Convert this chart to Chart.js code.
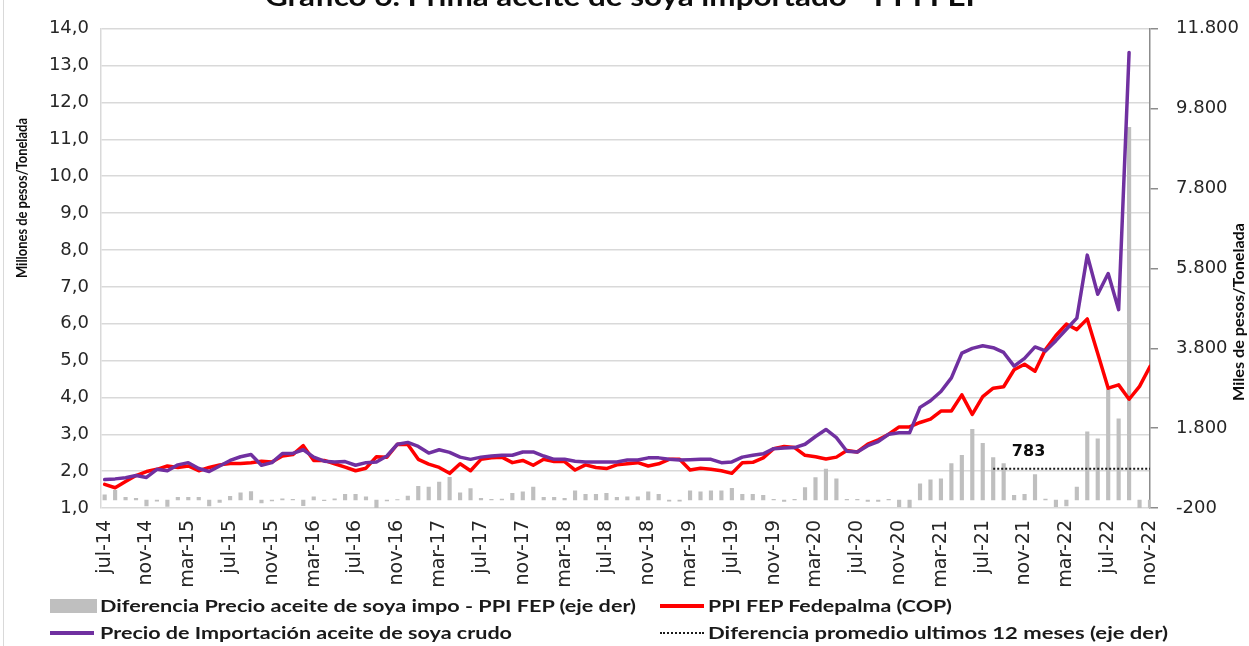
<!DOCTYPE html>
<html lang="es">
<head>
<meta charset="utf-8">
<title>Prima aceite de soya importado - PPI FEP</title>
<script src="https://cdn.jsdelivr.net/npm/chart.js@4.4.1/dist/chart.umd.min.js"></script>
<style>
  html, body { margin: 0; padding: 0; background: #fff; }
  #wrap { position: relative; width: 1249px; height: 646px; overflow: hidden; background: #fff; }
  #c { position: absolute; left: 0; top: 0; }
  #frame { position: absolute; left: 3px; top: 0; width: 1px; height: 646px; background: #d9d9d9; }
  .leg-text { position: absolute; font-family: Lato, "Open Sans", sans-serif; font-weight: 700; font-size: 17px;
              color: #1a1a1a; white-space: nowrap; line-height: 20px; transform-origin: 0 50%; }
  .leg-sw { position: absolute; }
</style>
</head>
<body>
<div id="wrap">
  <canvas id="c" width="1249" height="646"></canvas>
  <div id="frame"></div>
  <div id="legend"></div>
</div>
<script>
// Monthly categories, jul-14 .. nov-22
const months = [
  "jul-14","ago-14","sep-14","oct-14","nov-14","dic-14",
  "ene-15","feb-15","mar-15","abr-15","may-15","jun-15","jul-15","ago-15","sep-15","oct-15","nov-15","dic-15",
  "ene-16","feb-16","mar-16","abr-16","may-16","jun-16","jul-16","ago-16","sep-16","oct-16","nov-16","dic-16",
  "ene-17","feb-17","mar-17","abr-17","may-17","jun-17","jul-17","ago-17","sep-17","oct-17","nov-17","dic-17",
  "ene-18","feb-18","mar-18","abr-18","may-18","jun-18","jul-18","ago-18","sep-18","oct-18","nov-18","dic-18",
  "ene-19","feb-19","mar-19","abr-19","may-19","jun-19","jul-19","ago-19","sep-19","oct-19","nov-19","dic-19",
  "ene-20","feb-20","mar-20","abr-20","may-20","jun-20","jul-20","ago-20","sep-20","oct-20","nov-20","dic-20",
  "ene-21","feb-21","mar-21","abr-21","may-21","jun-21","jul-21","ago-21","sep-21","oct-21","nov-21","dic-21",
  "ene-22","feb-22","mar-22","abr-22","may-22","jun-22","jul-22","ago-22","sep-22","oct-22","nov-22"
];

// Precio de importación aceite de soya crudo (millones COP / t)
const importPrice = [
  1.77, 1.79, 1.82, 1.88, 1.83, 2.05,
  2.01, 2.17, 2.23, 2.07, 1.99, 2.14, 2.29, 2.39, 2.45, 2.16, 2.23, 2.48,
  2.48, 2.58, 2.38, 2.27, 2.25, 2.26, 2.16, 2.23, 2.25, 2.41, 2.73, 2.78,
  2.67, 2.49, 2.58, 2.51, 2.38, 2.32, 2.38, 2.41, 2.43, 2.43, 2.52, 2.52,
  2.41, 2.32, 2.32, 2.27, 2.25, 2.25, 2.25, 2.25, 2.30, 2.30, 2.36, 2.36,
  2.32, 2.30, 2.31, 2.32, 2.32, 2.23, 2.25, 2.38, 2.43, 2.47, 2.61, 2.63,
  2.64, 2.73, 2.94, 3.13, 2.91, 2.54, 2.52, 2.69, 2.80, 3.00, 3.04, 3.04,
  3.73, 3.91, 4.16, 4.53, 5.20, 5.33, 5.40, 5.35, 5.22, 4.85, 5.06, 5.37,
  5.26, 5.54, 5.85, 6.15, 7.86, 6.80, 7.36, 6.38, 13.36, null, null
];

// PPI FEP Fedepalma (millones COP / t)
const ppiFep = [
  1.64, 1.55, 1.72, 1.88, 1.99, 2.05,
  2.14, 2.10, 2.14, 2.01, 2.10, 2.17, 2.21, 2.21, 2.23, 2.27, 2.25, 2.41,
  2.45, 2.69, 2.29, 2.29, 2.20, 2.11, 2.01, 2.08, 2.39, 2.38, 2.73, 2.72,
  2.32, 2.19, 2.10, 1.94, 2.20, 2.01, 2.32, 2.36, 2.38, 2.23, 2.29, 2.16,
  2.32, 2.26, 2.26, 2.03, 2.17, 2.10, 2.07, 2.17, 2.20, 2.23, 2.14, 2.20,
  2.32, 2.32, 2.03, 2.08, 2.05, 2.01, 1.94, 2.23, 2.24, 2.36, 2.61, 2.67,
  2.64, 2.43, 2.39, 2.33, 2.38, 2.56, 2.52, 2.73, 2.85, 3.00, 3.20, 3.20,
  3.32, 3.41, 3.63, 3.63, 4.07, 3.54, 4.02, 4.25, 4.29, 4.75, 4.90, 4.71,
  5.30, 5.68, 5.99, 5.84, 6.13, 5.19, 4.25, 4.34, 3.95, 4.30, 4.84
];

// Diferencia precio importado - PPI FEP (miles COP / t, eje derecho)
const priceGap = [
  130, 240, 70, 40, -150, -30,
  -160, 65, 65, 65, -150, -60, 95, 180, 210, -70, -20, 30,
  20, -140, 80, -15, 30, 140, 140, 80, -190, -20, 10, 100,
  340, 325, 450, 570, 180, 285, 40, 15, 25, 165, 205, 325,
  65, 65, 40, 230, 140, 140, 165, 65, 80, 80, 205, 140,
  -30, -30, 230, 205, 230, 230, 295, 145, 145, 120, 15, -35,
  15, 310, 560, 775, 530, 15, 15, -35, -35, 15, -165, -200,
  405, 505, 530, 910, 1120, 1770, 1420, 1060, 910, 120, 145, 635,
  25, -165, -150, 325, 1710, 1535, 2780, 2035, 9330, -200, -200
];

// Diferencia promedio de los últimos 12 meses (miles COP / t)
const avgGap = 783;
const avgFrom = "ago-21";
const avgLabelAt = "nov-21";

// Axis ticks
const leftTicks = [1, 2, 3, 4, 5, 6, 7, 8, 9, 10, 11, 12, 13, 14];
const rightTicks = [-200, 1800, 3800, 5800, 7800, 9800, 11800];
const labelEvery = 4;

const titleText = "Gráfico 6. Prima aceite de soya importado - PPI FEP";
const leftTitle = "Millones de pesos/Tonelada";
const rightTitle = "Miles de pesos/Tonelada";

const names = {
  gap: "Diferencia Precio aceite de soya impo - PPI FEP (eje der)",
  ppi: "PPI FEP Fedepalma (COP)",
  imp: "Precio de Importación aceite de soya crudo",
  avg: "Diferencia promedio ultimos 12 meses (eje der)"
};

const colors = { gap: "#bfbfbf", ppi: "#ff0000", imp: "#7030a0", avg: "#1a1a1a" };

const yTickFont = { family: "'DejaVu Sans', Verdana, sans-serif", size: 18 };
const xTickFont = { family: "'DejaVu Sans', Verdana, sans-serif", size: 19 };
const tickColor = "#262626";

function fmtLeft(v) { return v.toFixed(1).replace(".", ","); }
function fmtRight(v) {
  const s = Math.abs(v).toString().replace(/\B(?=(\d{3})+(?!\d))/g, ".");
  return (v < 0 ? "-" : "") + s;
}

// Points placed on a numeric month index so the first month sits a little inside the plot edge
const asPoints = (arr) => arr.map((v, i) => ({ x: i, y: v }));
const avgStart = months.indexOf(avgFrom);
const avgSeries = months.map((m, i) => ({ x: i, y: i >= avgStart ? avgGap : null }));
const monthTicks = months.map((m, i) => i).filter((i) => i % labelEvery === 0);

// Title, axis titles and the average label, drawn on the canvas
const decor = {
  id: "decor",
  afterDraw(chart) {
    const { ctx, scales } = chart;
    ctx.save();

    // Chart title (partly above the canvas edge)
    ctx.font = "bold 26px Lato, sans-serif";
    ctx.fillStyle = "#0d0d0d";
    ctx.textAlign = "center";
    ctx.textBaseline = "alphabetic";
    const tw = ctx.measureText(titleText).width;
    ctx.save();
    ctx.translate(625, 6);
    ctx.scale(720 / tw, 1);
    ctx.fillText(titleText, 0, 0);
    ctx.restore();

    // Axis titles
    ctx.font = "bold 16px Lato, sans-serif";
    ctx.textBaseline = "middle";
    const drawVertical = (text, x, y, len) => {
      const w = ctx.measureText(text).width;
      ctx.save();
      ctx.translate(x, y);
      ctx.rotate(-Math.PI / 2);
      ctx.scale(len / w, 1);
      ctx.fillText(text, 0, 0);
      ctx.restore();
    };
    drawVertical(leftTitle, 22, 198, 160);
    drawVertical(rightTitle, 1239, 312, 178);

    // Average value label
    const xi = scales.x.getPixelForValue(months.indexOf(avgLabelAt));
    const yv = scales.y2.getPixelForValue(avgGap);
    ctx.font = "bold 16px 'DejaVu Sans', sans-serif";
    ctx.textAlign = "center";
    ctx.textBaseline = "middle";
    ctx.fillText(fmtRight(avgGap), xi + 4, yv - 17);

    ctx.restore();
  }
};

const chart = new Chart(document.getElementById("c"), {
  data: {
    datasets: [
      {
        type: "line", label: names.avg, data: avgSeries, yAxisID: "y2",
        borderColor: colors.avg, borderWidth: 1.8, borderDash: [2, 2],
        pointRadius: 0, order: 1
      },
      {
        type: "line", label: names.imp, data: asPoints(importPrice), yAxisID: "y",
        borderColor: colors.imp, borderWidth: 3.5, pointRadius: 0, tension: 0,
        borderJoinStyle: "round", borderCapStyle: "round", spanGaps: false, order: 2
      },
      {
        type: "line", label: names.ppi, data: asPoints(ppiFep), yAxisID: "y",
        borderColor: colors.ppi, borderWidth: 3.5, pointRadius: 0, tension: 0,
        borderJoinStyle: "round", borderCapStyle: "round", order: 3
      },
      {
        type: "bar", label: names.gap, data: asPoints(priceGap), yAxisID: "y2",
        backgroundColor: colors.gap, barThickness: 3.5, order: 5
      }
    ]
  },
  options: {
    responsive: false,
    animation: false,
    devicePixelRatio: 1,
    layout: { padding: { top: 17, left: 0, right: 0, bottom: 0 } },
    plugins: { legend: { display: false }, tooltip: { enabled: false }, title: { display: false } },
    scales: {
      x: {
        type: "linear",
        min: -0.35, max: months.length - 1,
        offset: false,
        afterBuildTicks: (s) => { s.ticks = monthTicks.map((value) => ({ value })); },
        grid: { display: false },
        border: { display: false },
        ticks: {
          autoSkip: false, maxRotation: 90, minRotation: 90, padding: 4,
          font: xTickFont, color: tickColor,
          callback: (v) => months[v]
        },
        afterFit: (s) => { s.height = 138; }
      },
      y: {
        position: "left",
        min: leftTicks[0], max: leftTicks[leftTicks.length - 1],
        afterBuildTicks: (s) => { s.ticks = leftTicks.map((value) => ({ value })); },
        grid: { color: "#d9d9d9", lineWidth: 1.5, drawTicks: false },
        border: { display: true, color: "#d9d9d9", width: 1.5 },
        ticks: { font: yTickFont, color: tickColor, padding: 12, callback: (v) => fmtLeft(v) },
        afterFit: (s) => { s.width = 101; }
      },
      y2: {
        position: "right",
        min: rightTicks[0], max: rightTicks[rightTicks.length - 1],
        afterBuildTicks: (s) => { s.ticks = rightTicks.map((value) => ({ value })); },
        grid: { drawOnChartArea: false, drawTicks: true, tickLength: 8, color: "#8c8c8c", lineWidth: 1.5 },
        border: { display: true, color: "#8c8c8c", width: 1.5 },
        ticks: { font: yTickFont, color: tickColor, padding: 18, callback: (v) => fmtRight(v) },
        afterFit: (s) => { s.width = 99; }
      }
    }
  },
  plugins: [decor]
});

// Legend (two columns, two rows)
const legendItems = [
  { key: "gap", kind: "box",  swX: 50,  textX: 100, textW: 536, y: 606 },
  { key: "ppi", kind: "line", swX: 660, textX: 708, textW: 244, y: 606 },
  { key: "imp", kind: "line", swX: 50,  textX: 100, textW: 412, y: 633 },
  { key: "avg", kind: "dots", swX: 660, textX: 708, textW: 460, y: 633 }
];
const legend = document.getElementById("legend");
legendItems.forEach((it) => {
  const sw = document.createElement("div");
  sw.className = "leg-sw";
  const swW = it.kind === "box" ? 47 : 44;
  sw.style.left = it.swX + "px";
  sw.style.width = swW + "px";
  if (it.kind === "box") {
    sw.style.top = (it.y - 7) + "px"; sw.style.height = "14px"; sw.style.background = colors[it.key];
  } else if (it.kind === "line") {
    sw.style.top = (it.y - 2) + "px"; sw.style.height = "4px"; sw.style.background = colors[it.key];
  } else {
    sw.style.top = (it.y - 1) + "px"; sw.style.height = "0px";
    sw.style.borderTop = "2px dotted " + colors[it.key];
  }
  legend.appendChild(sw);

  const tx = document.createElement("div");
  tx.className = "leg-text";
  tx.textContent = names[it.key];
  tx.style.left = it.textX + "px";
  tx.style.top = (it.y - 10) + "px";
  legend.appendChild(tx);
  const natural = tx.getBoundingClientRect().width;
  tx.style.transform = "scaleX(" + (it.textW / natural) + ")";
});
</script>
</body>
</html>
